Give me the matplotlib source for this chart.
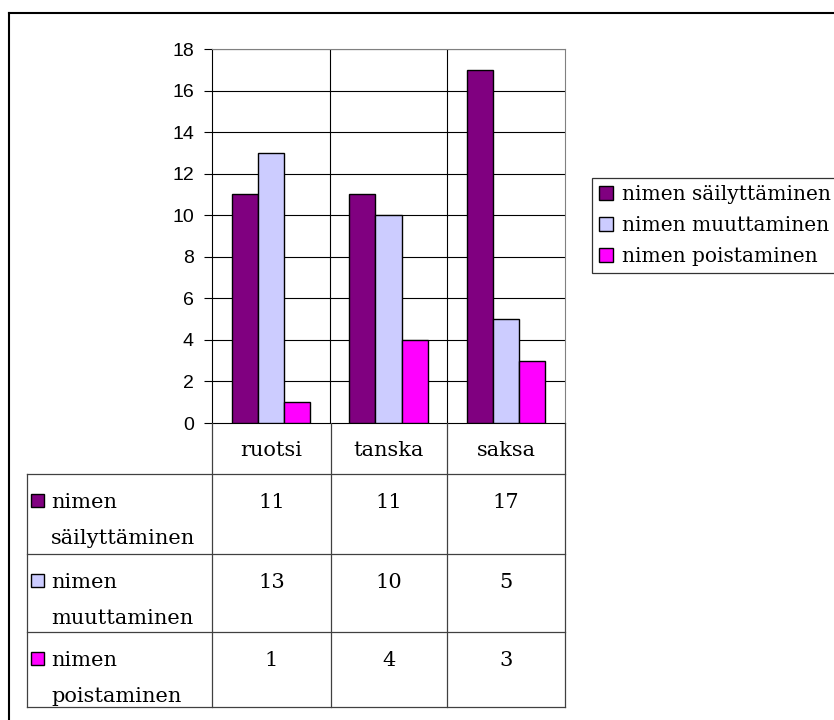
import matplotlib.pyplot as plt
from matplotlib.patches import Rectangle

# Data
kielet = ["ruotsi", "tanska", "saksa"]
sarjat = ["nimen säilyttäminen", "nimen muuttaminen", "nimen poistaminen"]
sailyttaminen = [11, 11, 17]
muuttaminen = [13, 10, 5]
poistaminen = [1, 4, 3]
arvot = [sailyttaminen, muuttaminen, poistaminen]
varit = ["#800080", "#CCCCFF", "#FF00FF"]
y_ticks = [0, 2, 4, 6, 8, 10, 12, 14, 16, 18]

W, H = 834, 720
fig = plt.figure(figsize=(W / 100, H / 100), dpi=100)

serif = "DejaVu Serif"
sans = "Liberation Sans"
fs = 15


def px(x0, y0, x1, y1):
    # pixel box -> figure fraction rect
    return [x0 / W, 1 - y1 / H, (x1 - x0) / W, (y1 - y0) / H]


# outer frame (only top and left visible)
fig.add_artist(plt.Line2D([8.5 / W, 8.5 / W], [0, 1 - 12.5 / H], color="black", lw=1.5))
fig.add_artist(plt.Line2D([8.5 / W, 833 / W], [1 - 12.5 / H, 1 - 12.5 / H], color="black", lw=1.5))

# main chart
ax = fig.add_axes(px(212, 49, 565, 423))
w = 0.222
for i, (nimi, vals, c) in enumerate(zip(sarjat, arvot, varit)):
    xs = [k + (i - 1) * w for k in range(len(kielet))]
    ax.bar(xs, vals, width=w, color=c, edgecolor="black", linewidth=1.0, label=nimi, zorder=3)

ax.set_xlim(-0.5, len(kielet) - 0.5)
ax.set_ylim(0, 18)
ax.set_yticks(y_ticks)
ax.set_yticklabels([str(t) for t in y_ticks], fontfamily=sans, fontsize=14)
ax.set_xticks([])
for t in y_ticks[1:]:
    ax.axhline(t, color="black", lw=0.8, zorder=1)
for k in range(1, len(kielet)):
    ax.axvline(k - 0.5, color="black", lw=0.8, zorder=1)
ax.tick_params(axis="y", length=6, width=0.8, pad=7)
for s in ["top", "right"]:
    ax.spines[s].set_color("#808080")
ax.spines["left"].set_linewidth(0.8)
ax.spines["bottom"].set_linewidth(0.8)

# legend
leg = fig.legend(loc="upper left", bbox_to_anchor=(592 / W, 1 - 178 / H),
                 prop={"family": serif, "size": 14.5}, frameon=True, fancybox=False,
                 edgecolor="black", handlelength=0.7, handleheight=0.7,
                 handletextpad=0.45, labelspacing=0.6, borderpad=0.35, borderaxespad=0)
leg.get_frame().set_linewidth(0.9)

# data table
tab = fig.add_axes(px(0, 423, W, 720))
tab.set_xlim(0, W)
tab.set_ylim(720, 423)
tab.axis("off")

col_x = [212, 331, 447, 565]
row_y = [423, 474, 554, 632, 707]
left = 27
lc = "#404040"
for x in col_x:
    tab.plot([x, x], [row_y[0], row_y[-1]], color=lc, lw=0.9)
tab.plot([left, left], [row_y[1], row_y[-1]], color=lc, lw=0.9)
for y in row_y[1:]:
    tab.plot([left, col_x[-1]], [y, y], color=lc, lw=0.9)

for j, kieli in enumerate(kielet):
    cx = (col_x[j] + col_x[j + 1]) / 2
    tab.text(cx, 456, kieli, ha="center", va="baseline", fontfamily=serif, fontsize=fs)

for i, (nimi, vals, c) in enumerate(zip(sarjat, arvot, varit)):
    y0 = row_y[i + 1]
    b1 = y0 + 34
    b2 = y0 + 70
    eka, toka = nimi.split(" ", 1)
    tab.add_patch(Rectangle((31, b1 - 14), 13, 13, facecolor=c, edgecolor="black", lw=1.0))
    tab.text(51, b1, eka, ha="left", va="baseline", fontfamily=serif, fontsize=fs)
    tab.text(51, b2, toka, ha="left", va="baseline", fontfamily=serif, fontsize=fs)
    for j, v in enumerate(vals):
        cx = (col_x[j] + col_x[j + 1]) / 2
        tab.text(cx, b1, str(v), ha="center", va="baseline", fontfamily=serif, fontsize=fs)

fig.savefig("out.png", dpi=100)
